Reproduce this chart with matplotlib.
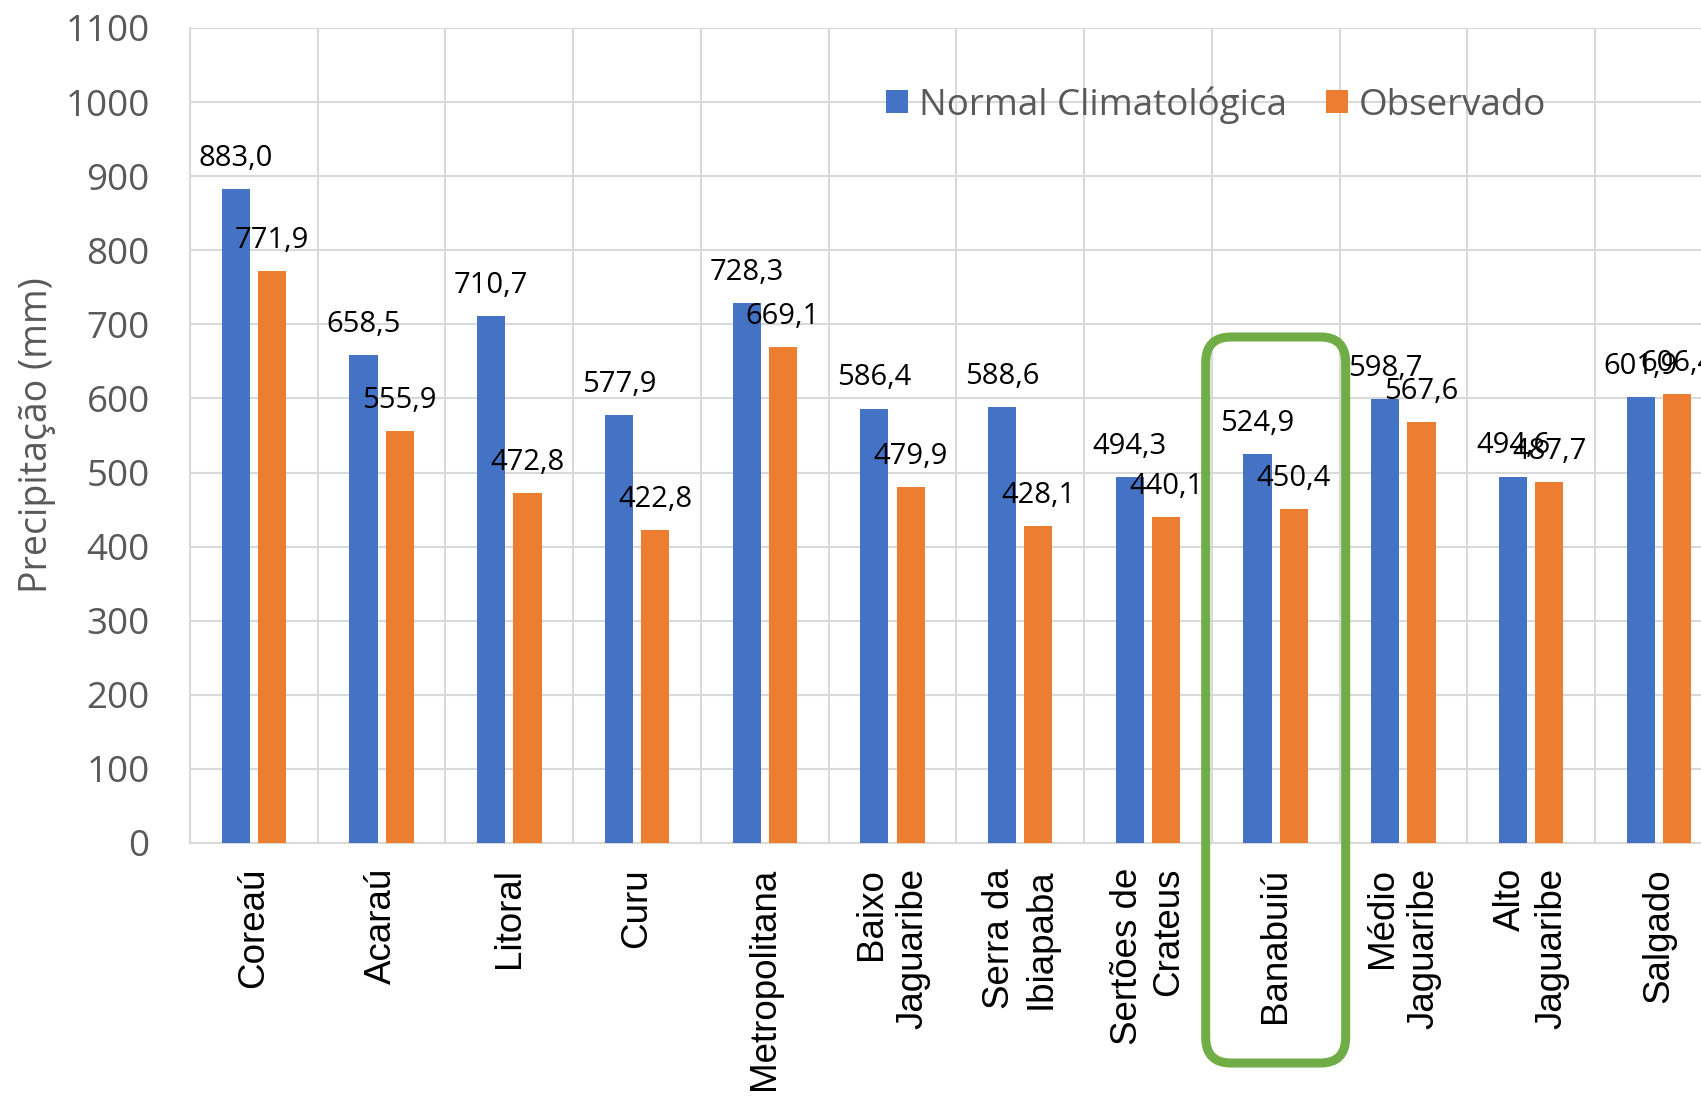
import matplotlib
matplotlib.use("Agg")
import matplotlib.pyplot as plt
from matplotlib.patches import FancyBboxPatch
import numpy as np

categories = ["Coreaú", "Acaraú", "Litoral", "Curu", "Metropolitana",
              "Baixo\nJaguaribe", "Serra da\nIbiapaba", "Sertões de\nCrateus",
              "Banabuiú", "Médio\nJaguaribe", "Alto\nJaguaribe", "Salgado"]
normal = [883.0, 658.5, 710.7, 577.9, 728.3, 586.4, 588.6, 494.3, 524.9, 598.7, 494.6, 601.9]
observado = [771.9, 555.9, 472.8, 422.8, 669.1, 479.9, 428.1, 440.1, 450.4, 567.6, 487.7, 606.4]
yticks = list(range(0, 1101, 100))
highlight = "Banabuiú"

BLUE = "#4472C4"
ORANGE = "#ED7D31"
GRID = "#D9D9D9"
GRAY = "#595959"
GREEN = "#70AD47"

fig = plt.figure(figsize=(17.01, 10.97), dpi=100)
ax = fig.add_axes([190/1701, 1 - 843/1097, 1 - 190/1701, (843 - 28)/1097])

x = np.arange(len(categories))
w = 0.22
off = 0.142
b1 = ax.bar(x - off, normal, w, color=BLUE, label="Normal Climatológica", zorder=3)
b2 = ax.bar(x + off, observado, w, color=ORANGE, label="Observado", zorder=3)

for bars, vals in ((b1, normal), (b2, observado)):
    for r, v in zip(bars, vals):
        ax.annotate(f"{v:.1f}".replace(".", ","),
                    (r.get_x() + r.get_width() / 2, v),
                    xytext=(0, 22), textcoords="offset points",
                    ha="center", va="center", fontsize=21,
                    family="Open Sans", color="black", zorder=5,
                    annotation_clip=False)

ax.set_xticks(np.arange(-0.5, len(categories), 1), minor=True)
ax.set_xticks(x)
ax.set_xticklabels(categories, rotation=90, fontsize=26.5, family="Liberation Sans",
                   va="top", ha="center", multialignment="right", linespacing=1.25)
ax.set_ylim(0, 1100)
ax.set_yticks(yticks)
ax.set_yticklabels([str(t) for t in yticks], fontsize=26.5, color=GRAY, family="Open Sans")
ax.set_xlim(-0.5, 11.33)
ax.tick_params(axis="both", which="both", length=0)
ax.tick_params(axis="x", pad=18)
ax.tick_params(axis="y", pad=29)

ax.grid(True, axis="y", color=GRID, linewidth=1.5, zorder=0)
ax.grid(True, axis="x", which="minor", color=GRID, linewidth=1.5, zorder=0)
ax.grid(False, axis="x", which="major")
for s in ("top", "right"):
    ax.spines[s].set_visible(False)
for s in ("left", "bottom"):
    ax.spines[s].set_color(GRID)
    ax.spines[s].set_linewidth(1.5)

ax.set_ylabel("Precipitação (mm)", fontsize=27, color=GRAY, family="Open Sans", va="center")
ax.yaxis.set_label_coords(-0.1015, 0.5)

fig.legend(handles=[b1, b2], loc="center left", bbox_to_anchor=(886/1701, 1 - 105/1097),
           ncol=2, frameon=False, prop={"family": "Open Sans", "size": 26.5},
           labelcolor=GRAY, handlelength=0.6, handleheight=0.6,
           handletextpad=0.3, columnspacing=1.05, borderpad=0, borderaxespad=0)

# highlight box around Banabuiú
hi = categories.index(highlight)
xpx = ax.bbox.width / (ax.get_xlim()[1] - ax.get_xlim()[0])
ypx = ax.bbox.height / 1100
aspect = (1 / ypx) / (1 / xpx)
box = FancyBboxPatch((hi - 0.548, -297), 1.096, 683 + 297,
                     boxstyle="round,pad=0,rounding_size=0.2",
                     mutation_aspect=aspect,
                     fill=False, edgecolor=GREEN, linewidth=6.5,
                     clip_on=False, zorder=6, transform=ax.transData)
ax.add_patch(box)

fig.savefig("out.png", dpi=100)
